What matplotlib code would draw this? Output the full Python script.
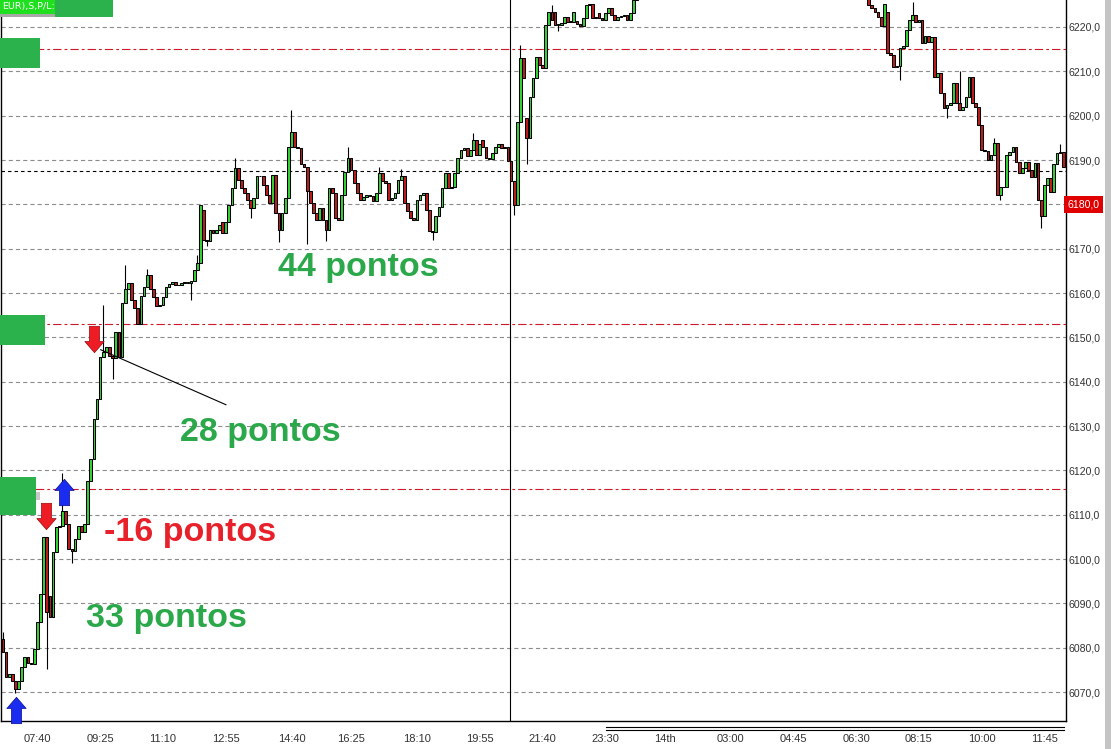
import numpy as np
import matplotlib
matplotlib.use("Agg")
import matplotlib.pyplot as plt
from matplotlib.path import Path
from matplotlib.patches import Rectangle
from matplotlib.lines import Line2D
from matplotlib import transforms

plt.rcParams['lines.scale_dashes'] = False

# ---------------- data ----------------
first_open = 6081.9
closes_day1 = [
    6079.0, 6073.4, 6074.0, 6072.5, 6070.7, 6072.5, 6075.6, 6077.9, 6076.5, 6076.3,
    6079.7, 6085.8, 6092.1, 6104.9, 6088.0, 6087.0, 6101.5, 6107.2, 6107.5, 6110.8,
    6107.9, 6102.2, 6101.8, 6104.6, 6107.5, 6106.2, 6108.0, 6117.5, 6122.5, 6131.5,
    6136.0, 6145.5, 6146.8, 6147.9, 6145.7, 6145.3, 6151.3, 6145.5, 6157.8, 6160.8,
    6162.3, 6158.5, 6156.7, 6152.9, 6159.3, 6161.4, 6164.1, 6160.8, 6159.2, 6157.0,
    6157.4, 6159.2, 6161.4, 6162.1, 6162.5, 6161.9, 6161.7, 6162.2, 6162.4, 6162.3,
    6162.8, 6165.3, 6166.8, 6179.9, 6172.0, 6171.8, 6174.3, 6173.5, 6174.3, 6175.4,
    6173.5, 6176.1, 6179.9, 6183.7, 6188.2, 6185.5, 6183.7, 6182.5, 6181.0, 6179.2,
    6181.4, 6186.3, 6186.5, 6184.4, 6182.2, 6180.3, 6186.6, 6178.0, 6174.3, 6178.0,
    6181.4, 6193.0, 6196.4, 6193.0, 6192.7, 6189.0, 6188.5, 6182.9, 6180.3, 6178.0,
    6176.5, 6179.2, 6176.5, 6174.3, 6183.7, 6182.5, 6176.9, 6176.5, 6182.2, 6187.4,
    6190.4, 6187.8, 6184.8, 6182.5, 6181.0, 6181.6, 6182.2, 6181.8, 6180.7, 6182.5,
    6187.0, 6185.2, 6184.8, 6181.0, 6181.4, 6182.5, 6185.5, 6186.3, 6180.3, 6178.4,
    6176.9, 6176.5, 6181.0, 6182.2, 6182.5, 6178.8, 6174.0, 6173.8, 6177.3, 6179.5,
    6183.7, 6187.0, 6183.7, 6183.9, 6187.0, 6190.4, 6192.3, 6192.7, 6190.9, 6192.3,
    6194.6, 6191.2, 6193.5, 6193.0, 6190.4, 6190.2, 6191.5, 6193.0, 6193.5, 6192.7,
    6193.0, 6189.7, 6185.2]
closes_night = [
    6179.9, 6198.6, 6213.0, 6208.5, 6195.0, 6204.2, 6208.5, 6213.2, 6211.4, 6210.8,
    6220.5, 6223.4, 6221.6, 6220.5, 6220.5, 6221.0, 6222.3, 6221.1, 6221.1, 6223.4,
    6220.7, 6220.2, 6222.0, 6225.0, 6225.2, 6222.0, 6222.3, 6222.0, 6221.6, 6223.2,
    6224.3, 6222.7, 6221.6, 6222.3, 6222.5, 6222.6, 6221.6, 6223.2, 6226.1, 6228.5]
hidden_bars = 73          # bars traded above the visible price range
closes_day2 = [
    6225.0, 6224.3, 6223.4, 6222.3, 6220.2, 6225.1, 6214.1, 6213.7, 6211.0, 6211.2,
    6215.3, 6215.8, 6219.3, 6221.6, 6222.7, 6221.1, 6221.6, 6216.4, 6218.0, 6216.6,
    6217.7, 6208.7, 6209.6, 6205.1, 6201.8, 6202.4, 6202.9, 6207.4, 6202.9, 6201.3,
    6202.0, 6204.2, 6208.7, 6202.9, 6202.0, 6197.9, 6192.3, 6192.0, 6190.0, 6191.2,
    6193.9, 6182.2, 6183.8, 6183.9, 6191.2, 6191.8, 6193.0, 6189.6, 6187.1, 6188.2,
    6189.6, 6187.8, 6186.2, 6189.4, 6181.0, 6177.4, 6184.4, 6186.0, 6182.8, 6189.0,
    6191.6, 6191.8, 6188.5]
open_gaps = {0: first_open, 15: 6091.6, 64: 6178.8, 70: 6176.1, 153: 6194.6,
             167: 6199.5, 176: 6223.4, 183: 6221.4, 190: 6223.2, 276: 6226.5, 282: 6223.4}
high_wicks = {0: 6083.5, 19: 6119.5, 32: 6157.4, 39: 6166.4, 46: 6165.5, 62: 6168.5,
              74: 6190.5, 92: 6201.3, 110: 6193.0, 120: 6188.5, 127: 6188.0,
              150: 6196.0, 165: 6216.0, 173: 6215.5, 175: 6225.0, 290: 6225.6,
              305: 6210.0, 316: 6195.0, 337: 6193.5}
low_wicks = {4: 6069.8, 14: 6075.2, 16: 6096.0, 22: 6099.0, 35: 6140.5, 60: 6158.5,
             65: 6170.5, 79: 6177.0, 88: 6171.5, 97: 6171.0, 103: 6171.7, 137: 6172.0,
             163: 6177.7, 167: 6189.1, 177: 6219.0, 286: 6208.0, 301: 6199.5,
             318: 6181.0, 331: 6174.6}

price_levels = [6070, 6080, 6090, 6100, 6110, 6120, 6130, 6140, 6150, 6160,
                6170, 6180, 6190, 6200, 6210, 6220]
time_ticks = [11, 31, 51, 71, 92, 111, 132, 152, 172, 192, 211, 232, 252, 272, 292, 312, 332]
time_labels = ["07:40", "09:25", "11:10", "12:55", "14:40", "16:25", "18:10", "19:55",
               "21:40", "23:30", "14th", "03:00", "04:45", "06:30", "08:15", "10:00", "11:45"]
session_break = 161.5
stop_levels = [6215.0, 6153.0, 6115.8]
last_price_line = 6187.5
marker_price = 6180.0

signal_bars = [4.2, 13.7, 19.5, 29.0]
signal_prices = [6065.9, 6109.8, 6115.2, 6149.7]
signal_dirs = ["up", "down", "up", "down"]

notes = ["44 pontos", "28 pontos", "-16 pontos", "33 pontos"]
note_bars = [113.4, 82.2, 59.6, 52.0]
note_prices = [6163.9, 6126.6, 6104.1, 6084.7]
note_colors = ["#2aa84a", "#2aa84a", "#e8202a", "#2aa84a"]
line_bars = [31.2, 71.1]
line_prices = [6147.2, 6134.8]

# ---------------- build OHLC ----------------
closes = np.array(closes_day1 + closes_night + [np.nan] * hidden_bars + closes_day2, dtype=float)
n = len(closes)
bars = np.arange(n)
opens = np.array([open_gaps.get(i, closes[i - 1] if i > 0 else np.nan) for i in range(n)])
highs = np.fmax(opens, closes)
lows = np.fmin(opens, closes)
for k, v in high_wicks.items():
    highs[k] = max(highs[k], v)
for k, v in low_wicks.items():
    lows[k] = min(lows[k], v)
valid = ~np.isnan(closes) & ~np.isnan(opens)

# ---------------- figure ----------------
W, H = 1111, 749
fig = plt.figure(figsize=(W / 100, H / 100), dpi=100)
fig.patch.set_facecolor("white")
ax = fig.add_axes([1 / W, 1 - 721 / H, 1065 / W, 721 / H])
ax.set_xlim(-0.6, 338.9)
ax.set_ylim(6063.46, 6226.09)

for lvl in price_levels:
    ax.axhline(lvl, color="#8c8c8c", lw=0.8, ls=(0, (3.0, 2.2)), zorder=1)
for lvl in stop_levels:
    ax.axhline(lvl, color="#cc1a2a", lw=0.8, ls=(0, (6, 2.2, 2, 2.2)), zorder=1)
ax.axhline(last_price_line, color="black", lw=0.8, ls=(0, (2.5, 2.2)), zorder=1)
ax.axvline(session_break, color="black", lw=0.8, zorder=2)

b = bars[valid]
o = opens[valid]
c = closes[valid]
up = c >= o
bottom = np.fmin(o, c)
height = np.maximum(np.abs(c - o), 0.2)
ax.vlines(b, lows[valid], highs[valid], colors="black", lw=0.8, zorder=3)
ax.bar(b[up], height[up], bottom=bottom[up], width=0.86, color="#36d436",
       edgecolor="black", linewidth=0.75, zorder=4)
ax.bar(b[~up], height[~up], bottom=bottom[~up], width=0.86, color="#c01c1c",
       edgecolor="black", linewidth=0.75, zorder=4)

ax.plot(line_bars, line_prices, color="black", lw=0.8, zorder=5)

# arrow markers
up_path = Path([(0, 13), (9.5, 2), (5, 2), (5, -13), (-5, -13), (-5, 2), (-9.5, 2), (0, 13)],
               closed=True)
down_path = Path([(0, -13), (9.5, -2), (5, -2), (5, 13), (-5, 13), (-5, -2), (-9.5, -2), (0, -13)],
                 closed=True)
for xb, yp, d in zip(signal_bars, signal_prices, signal_dirs):
    if d == "up":
        ax.plot([xb], [yp], marker=up_path, markersize=19, color="#1a2cf0",
                markeredgecolor="#0a0a90", markeredgewidth=0.5, zorder=6, clip_on=False)
    else:
        ax.plot([xb], [yp], marker=down_path, markersize=19, color="#ee1c24",
                markeredgecolor="#9a0a0a", markeredgewidth=0.5, zorder=6, clip_on=False)

for t, xb, yp, col in zip(notes, note_bars, note_prices, note_colors):
    ax.text(xb, yp, t, color=col, fontsize=24.5, fontweight="bold",
            family="Liberation Sans", ha="center", va="baseline", zorder=7)

# axes styling
ax.yaxis.tick_right()
ax.set_yticks(price_levels)
ax.set_yticklabels([f"{v:.1f}".replace(".", ",") for v in price_levels],
                   family="Liberation Sans")
ax.set_xticks(time_ticks)
ax.set_xticklabels(time_labels, family="Liberation Sans")
ax.tick_params(axis="y", length=0, pad=2, labelsize=7.6, labelcolor="#333333")
ax.tick_params(axis="x", length=0, pad=9, labelsize=8, labelcolor="#333333")
ax.spines["top"].set_visible(False)
for s in ("left", "right", "bottom"):
    ax.spines[s].set_color("black")
    ax.spines[s].set_linewidth(1.0)

trans = transforms.blended_transform_factory(ax.transAxes, ax.transData)
ax.text(1.0015, marker_price, f"{marker_price:.1f}".replace(".", ","), transform=trans,
        color="white", fontsize=7.6, family="Liberation Sans", ha="left", va="center",
        zorder=10, clip_on=False,
        bbox=dict(boxstyle="square,pad=0.3", facecolor="#e00000", edgecolor="none"))

# ---------------- panel decorations (pixel positions) ----------------
def fig_rect(x0, y0, x1, y1, color, **kw):
    fig.add_artist(Rectangle((x0 / W, 1 - y1 / H), (x1 - x0) / W, (y1 - y0) / H,
                             transform=fig.transFigure, facecolor=color,
                             edgecolor="none", zorder=20, **kw))

fig_rect(0, 0, 55, 14, "#1fe01f")
fig_rect(0, 14, 55, 17, "#a8a8a8")
fig_rect(55, 0, 113, 17, "#2bb24c")
fig_rect(0, 38, 40, 68, "#2bb24c")
fig_rect(0, 315, 45, 345, "#2bb24c")
fig_rect(0, 477, 36, 515, "#2bb24c")
fig_rect(36, 492, 40, 500, "#c8c8c8")
fig_rect(1105, 0, 1111, 749, "#c4c4c4")
fig.text(2 / W, 1 - 7 / H, "EUR),S,P/L:", color="white", fontsize=6.8,
         ha="left", va="center", zorder=21)

for yy in (727, 730):
    fig.add_artist(Line2D([606 / W, 1064 / W], [1 - yy / H, 1 - yy / H],
                          transform=fig.transFigure, color="black", lw=0.8))

fig.savefig("out.png", dpi=100)
